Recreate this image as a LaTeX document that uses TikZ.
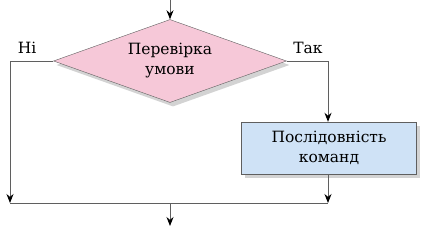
\documentclass[tikz,border=0pt]{standalone}
\usepackage{fontspec}
\setmainfont{DejaVu Serif}
\usepackage{xcolor}
\usetikzlibrary{arrows.meta,positioning,shapes.geometric,shadows}
\definecolor{condpink}{RGB}{246,200,216}
\definecolor{boxblue}{RGB}{207,226,246}
\definecolor{linegray}{RGB}{95,95,95}
\tikzset{
  cond/.style={diamond,aspect=2.8,draw=linegray,fill=condpink,align=center,font=\fontsize{15.5}{20}\selectfont,
    minimum width=233pt,minimum height=83pt,inner sep=0pt,
    drop shadow={shadow xshift=3pt,shadow yshift=-4pt,opacity=0.35}},
  cmdbox/.style={draw=linegray,fill=boxblue,align=center,font=\fontsize{15.5}{20}\selectfont,
    minimum width=175pt,minimum height=52pt,inner sep=0pt,
    drop shadow={shadow xshift=3pt,shadow yshift=-4pt,opacity=0.35}},
  lbl/.style={font=\fontsize{15.5}{19}\selectfont,inner sep=1pt},
  ln/.style={draw=linegray,line width=0.9pt},
  arr/.style={ln,-{Stealth[length=9pt,width=7pt,color=black]}},
}
\begin{document}
\begin{tikzpicture}[x=1pt,y=-1pt]
\useasboundingbox (0,0) rectangle (430,227);
\coordinate (in) at (170,0);
\node[cond] (check) at (170,61) {Перевірка\\умови};
\node[cmdbox] (body) at (329,148) {Послідовність\\команд};
\coordinate (nocorner) at (10,61);
\coordinate (noend) at (10,203);
\coordinate (yescorner) at (328,61);
\coordinate (yesend) at (328,203);
\coordinate (join) at (170,203);
\coordinate (out) at (170,226);
\node[lbl] (nolbl) at (27,48) {Ні};
\node[lbl] (yeslbl) at (308,48) {Так};
\draw[arr] (in) -- (check.north);
\draw[arr] (check.west) -- (nocorner) -- (noend);
\draw[arr] (check.east) -- (yescorner) -- (yescorner |- body.north);
\draw[arr] (body.south -| yesend) -- (yesend);
\draw[ln] (noend) -- (yesend);
\draw[arr] (join) -- (out);
\end{tikzpicture}
\end{document}
